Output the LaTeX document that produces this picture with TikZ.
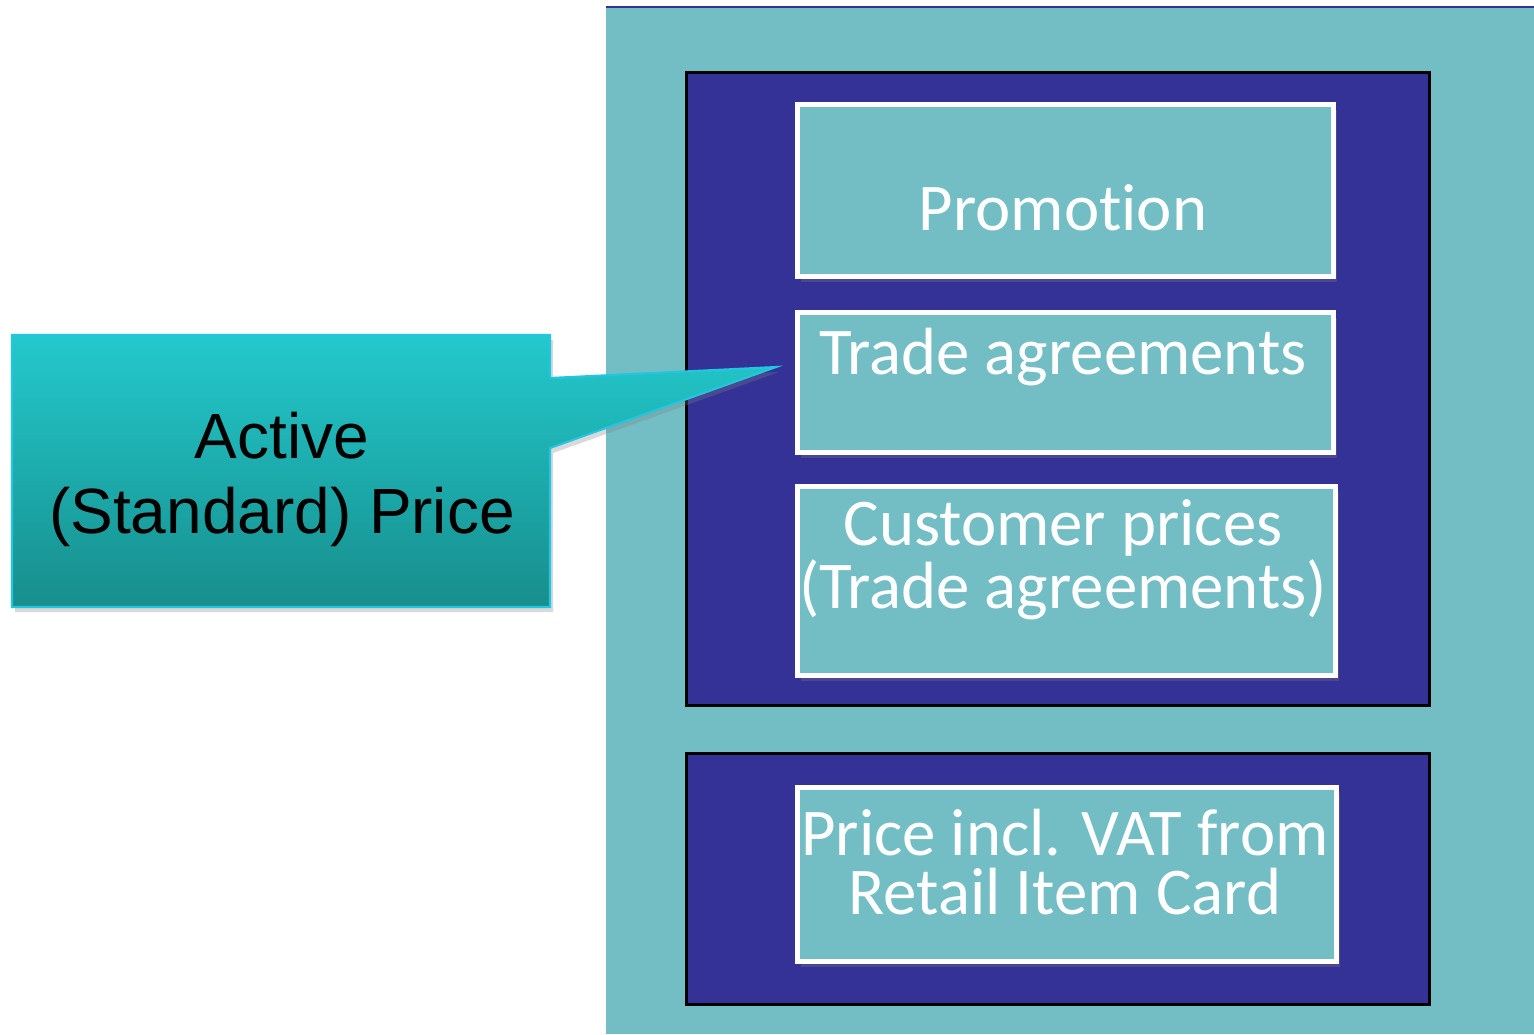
\documentclass[tikz,border=0pt]{standalone}
\usepackage{fontspec}
\setmainfont[Ligatures=NoCommon]{Carlito}
\newfontfamily\calloutfont{Liberation Sans}
\usepackage{tikz}
\usetikzlibrary{shadows}
\definecolor{tealbg}{HTML}{73BEC4}
\definecolor{navy}{HTML}{343296}
\definecolor{calltop}{HTML}{23C9CD}
\definecolor{callbot}{HTML}{178E8C}
\definecolor{callrim}{HTML}{22C6E0}
\tikzstyle{panel}=[draw=black,fill=navy,line width=0.8pt,anchor=north west,inner sep=0pt]
\tikzstyle{item}=[draw=white,fill=tealbg,line width=1.5pt,anchor=north west,inner sep=0pt,drop shadow={opacity=0.3,shadow xshift=0.3mm,shadow yshift=-0.5mm}]
\tikzstyle{itemtext}=[text=white,font=\fontsize{19}{16.6}\selectfont,align=center,inner sep=0pt]
\tikzstyle{calltext}=[text=black,font=\calloutfont\fontsize{18.2}{21.3}\selectfont,align=center,inner sep=0pt]

\begin{document}
\begin{tikzpicture}[x=0.1mm,y=-0.1mm]
    \useasboundingbox (0,0) rectangle (1534,1034);

    % background strip
    \fill[tealbg] (606,7) rectangle (1534,1034);
    \draw[navy,line width=0.6pt] (606,7) -- (1534,7);

    \node[panel,minimum width=74.3mm,minimum height=63.3mm] (upper) at (685,71) {};
    \node[panel,minimum width=74.3mm,minimum height=25.1mm] (lower) at (685,752) {};

    \node[item,minimum width=53.6mm,minimum height=17.2mm] (promo) at (795,102) {};
    \node[item,minimum width=53.6mm,minimum height=14.0mm] (trade) at (795,310) {};
    \node[item,minimum width=53.8mm,minimum height=18.9mm] (cust)  at (795,484) {};
    \node[item,minimum width=53.9mm,minimum height=17.4mm] (vat)   at (795,785) {};

    \node[itemtext] (promotxt) at (1063,208) {Promotion};
    \node[itemtext] (tradetxt) at (1063,357) {Trade agreements};
    \node[itemtext] (custtxt)  at (1063,560) {Customer prices\\(Trade agreements)};
    \node[itemtext] (vattxt)   at (1065,862) {Price incl. VAT from\\Retail Item Card};

    % callout pointing at the trade agreements
    \coordinate (tip) at (776,367);
    \path[drop shadow={opacity=0.3,shadow xshift=0.3mm,shadow yshift=-0.5mm},
          top color=calltop,bottom color=callbot,draw=callrim,line width=0.6pt]
        (12,335) -- (550,335) -- (550,378) -- (tip) -- (550,448) -- (550,607) -- (12,607) -- cycle;
    \node[calltext] (active) at (282,479) {Active\\(Standard) Price};

\end{tikzpicture}
\end{document}
